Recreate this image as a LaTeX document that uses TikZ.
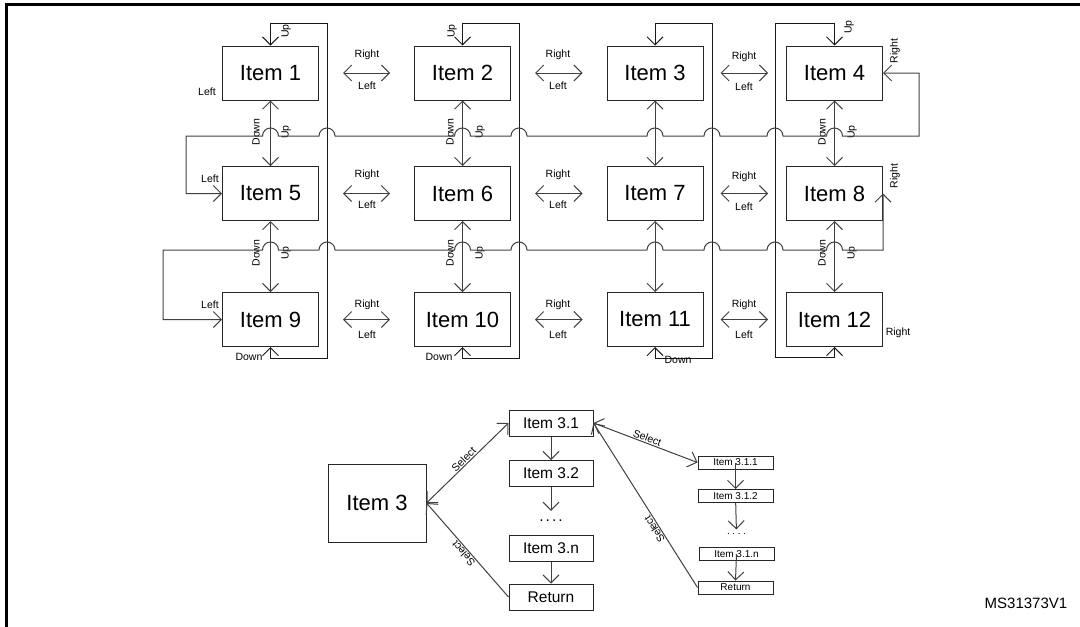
\documentclass[tikz,border=0pt]{standalone}
\usepackage{fontspec}
\setmainfont{Liberation Sans}
\usetikzlibrary{arrows.meta}
\definecolor{linegray}{RGB}{64,64,64}

\begin{document}
\begin{tikzpicture}[x=1pt, y=-1pt, line width=1pt,
  >={Straight Barb[length=8pt, width=16pt]},
  item/.style={draw=black!85, minimum width=96pt, minimum height=54pt, inner sep=0pt, font=\fontsize{22}{24}\selectfont},
  subitem/.style={draw=black!85, minimum width=84pt, minimum height=26pt, inner sep=0pt, font=\fontsize{15.5}{17}\selectfont},
  subsubitem/.style={draw=black!85, minimum width=75pt, minimum height=13pt, inner sep=0pt, font=\fontsize{10}{11}\selectfont},
  lbl/.style={font=\fontsize{10.5}{12}\selectfont, inner sep=1pt},
  conn/.style={draw=linegray},
  loopline/.style={draw=black!90}]
  \useasboundingbox (0,0) rectangle (1080,627);
  \draw[line width=2.5pt] (1080,4.5) -- (6.5,4.5) -- (6.5,627);

  % menu grid
  \node[item] (i1) at (270.5,73) {Item 1};
  \node[item] (i2) at (462.5,73) {Item 2};
  \node[item] (i3) at (655,73) {Item 3};
  \node[item] (i4) at (834.5,73) {Item 4};
  \node[item] (i5) at (270.5,193.5) {Item 5};
  \node[item] (i6) at (462.5,193.5) {Item 6};
  \node[item] (i7) at (655,193.5) {Item 7};
  \node[item] (i8) at (834.5,193.5) {Item 8};
  \node[item] (i9) at (270.5,319.5) {Item 9};
  \node[item] (i10) at (462.5,319.5) {Item 10};
  \node[item] (i11) at (655,319.5) {Item 11};
  \node[item] (i12) at (834.5,319.5) {Item 12};

  % right / left
  \draw[conn, <->, shorten <=24pt, shorten >=24pt] (i1) -- (i2);
  \draw[conn, <->, shorten <=24pt, shorten >=24pt] (i2) -- (i3);
  \draw[conn, <->, shorten <=17pt, shorten >=18pt] (i3) -- (i4);
  \draw[conn, <->, shorten <=24pt, shorten >=24pt] (i5) -- (i6);
  \draw[conn, <->, shorten <=24pt, shorten >=24pt] (i6) -- (i7);
  \draw[conn, <->, shorten <=17pt, shorten >=18pt] (i7) -- (i8);
  \draw[conn, <->, shorten <=24pt, shorten >=24pt] (i9) -- (i10);
  \draw[conn, <->, shorten <=24pt, shorten >=24pt] (i10) -- (i11);
  \draw[conn, <->, shorten <=17pt, shorten >=18pt] (i11) -- (i12);
  \node[lbl] (r12) at (367,55) {Right};  \node[lbl] (l12) at (367,86) {Left};
  \node[lbl] (r23) at (558,55) {Right};  \node[lbl] (l23) at (558,86) {Left};
  \node[lbl] (r34) at (744,57) {Right};  \node[lbl] (l34) at (744,87) {Left};
  \node[lbl] (r56) at (367,175) {Right}; \node[lbl] (l56) at (367,205) {Left};
  \node[lbl] (r67) at (558,175) {Right}; \node[lbl] (l67) at (558,205) {Left};
  \node[lbl] (r78) at (744,177) {Right}; \node[lbl] (l78) at (744,207) {Left};
  \node[lbl] (r910) at (367,305) {Right};  \node[lbl] (l910) at (367,335) {Left};
  \node[lbl] (r1011) at (558,305) {Right}; \node[lbl] (l1011) at (558,335) {Left};
  \node[lbl] (r1112) at (744,305) {Right}; \node[lbl] (l1112) at (744,335) {Left};

  % up / down between rows
  \draw[conn, <->] (i1) -- (i5);
  \draw[conn, <->] (i2) -- (i6);
  \draw[conn, <->] (i3) -- (i7);
  \draw[conn, <->] (i4) -- (i8);
  \draw[conn, <->] (i5) -- (i9);
  \draw[conn, <->] (i6) -- (i10);
  \draw[conn, <->] (i7) -- (i11);
  \draw[conn, <->] (i8) -- (i12);
  \node[lbl, rotate=90] (d15) at (256,132) {Down};  \node[lbl, rotate=90] (u15) at (286,132) {Up};
  \node[lbl, rotate=90] (d26) at (450,132) {Down};  \node[lbl, rotate=90] (u26) at (480,132) {Up};
  \node[lbl, rotate=90] (d48) at (822,132) {Down};  \node[lbl, rotate=90] (u48) at (852,132) {Up};
  \node[lbl, rotate=90] (d59) at (256,253) {Down};  \node[lbl, rotate=90] (u59) at (286,253) {Up};
  \node[lbl, rotate=90] (d610) at (450,253) {Down}; \node[lbl, rotate=90] (u610) at (480,253) {Up};
  \node[lbl, rotate=90] (d812) at (822,253) {Down}; \node[lbl, rotate=90] (u812) at (852,253) {Up};

  % wrap around columns
  \draw[loopline, <->] (i1.north) |- (327,23) -- (327,358) -| (i9.south);
  \draw[loopline, <->] (i2.north) |- (519,23) -- (519,358) -| (i10.south);
  \draw[loopline, <->] (i3.north) |- (712,23) -- (712,358) -| (i11.south);
  \draw[loopline, <->] (i4.north) |- (775,23) -- (775,357) -| (i12.south);
  \node[lbl, rotate=90] (u1) at (286,31) {Up};
  \node[lbl, rotate=90] (u2) at (452,31) {Up};
  \node[lbl, rotate=90] (u4) at (849,27) {Up};
  \node[lbl] (d9) at (249,357) {Down};
  \node[lbl] (d10) at (439,357) {Down};
  \node[lbl] (d11) at (678,360) {Down};

  % wrap around rows
  \draw[conn, <->] (i4.east) -| (919,136)
    \foreach \hx in {834.5,775,712,655,519,462.5,327,270.5} { -- (\hx+8,136) arc[start angle=0, end angle=-180, radius=8] }
    -- (186,136) |- (i5.west);
  \draw[conn, <->] (i8.east) -- (i8.east |- 0,250)
    \foreach \hx in {834.5,775,712,655,519,462.5,327,270.5} { -- (\hx+8,250) arc[start angle=0, end angle=-180, radius=8] }
    -- (163,250) |- (i9.west);
  \node[lbl] (lf1) at (207,92) {Left};
  \node[lbl] (lf5) at (210,179) {Left};
  \node[lbl] (lf9) at (210,305) {Left};
  \node[lbl, rotate=90] (rt4) at (895,51) {Right};
  \node[lbl, rotate=90] (rt8) at (895,176) {Right};
  \node[lbl] (rt12) at (898,333) {Right};

  % sub menus of item 3
  \node[item, minimum width=98pt, minimum height=78pt] (big3) at (377,503) {Item 3};
  \node[subitem] (m1) at (551,423) {Item 3.1};
  \node[subitem] (m2) at (551,473.5) {Item 3.2};
  \node[inner sep=0pt, anchor=base, font=\fontsize{15.5}{17}\selectfont] (mdots) at (551,521) {.\kern2pt.\kern2pt.\kern2pt.};
  \node[subitem] (mn) at (551,548.5) {Item 3.n};
  \node[subitem] (mret) at (551,597) {Return};
  \draw[conn, ->] (m1) -- (m2);
  \draw[conn, ->, shorten >=8pt] (m2) -- (mdots);
  \draw[conn, ->] (mn) -- (mret);
  \draw[conn, <->] (big3.east) -- (m1.west) node[lbl, midway, sloped, above] (sel1) {Select};
  \draw[conn, ->] (mret.west) -- (big3.east) node[lbl, midway, sloped, allow upside down, above] (sel2) {Select};

  \node[subsubitem] (s1) at (735.5,462.5) {Item 3.1.1};
  \node[subsubitem] (s2) at (735.5,496) {Item 3.1.2};
  \node[inner sep=0pt, anchor=base, font=\fontsize{10}{11}\selectfont] (sdots) at (736.5,534) {.\kern2.5pt.\kern2.5pt.\kern2.5pt.};
  \node[subsubitem] (sn) at (736.5,554) {Item 3.1.n};
  \node[subsubitem] (sret) at (735.5,587.5) {Return};
  \draw[conn, ->] (s1.center) -- (s2.north);
  \draw[conn, ->, shorten >=3pt] (s2) -- (sdots);
  \draw[conn, ->] (sn.center) -- (sret.north);
  \draw[conn, <->] (m1.east) -- (s1.west) node[lbl, midway, sloped, above] (sel3) {Select};
  \draw[conn, ->] (sret.west) -- (m1.east) node[lbl, pos=0.37, sloped, allow upside down, above] (sel4) {Select};

  \node[font=\fontsize{15}{17}\selectfont, inner sep=0pt] (msid) at (1026,603) {MS31373V1};
\end{tikzpicture}
\end{document}
